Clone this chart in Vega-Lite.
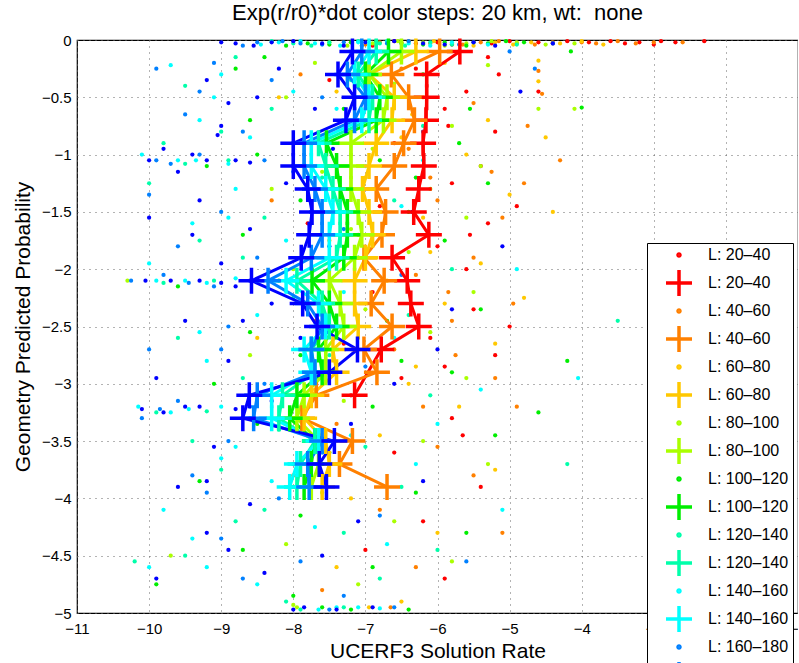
{
"$schema":"https://vega.github.io/schema/vega-lite/v6.json",
"width":721,"height":573,
"autosize":{"type":"none"},
"padding":{"left":77,"top":40,"right":0,"bottom":50},
"background":"white",
"title":{"text":"Exp(r/r0)*dot color steps: 20 km, wt:\u00a0 none","fontSize":22,"fontWeight":"normal","font":"Liberation Sans","color":"black","offset":6},
"datasets":{
"dots":[
{"x":-5.5,"y":-0.02,"k":"L: 20–40"},{"x":-5.0,"y":-0.01,"k":"L: 20–40"},{"x":-4.6,"y":-0.02,"k":"L: 20–40"},{"x":-4.2,"y":-0.01,"k":"L: 20–40"},{"x":-3.9,"y":-0.02,"k":"L: 20–40"},{"x":-3.6,"y":-0.01,"k":"L: 20–40"},{"x":-3.2,"y":-0.02,"k":"L: 20–40"},{"x":-2.9,"y":-0.01,"k":"L: 20–40"},{"x":-2.7,"y":-0.02,"k":"L: 20–40"},{"x":-2.3,"y":-0.01,"k":"L: 20–40"},{"x":-6.3,"y":-0.03,"k":"L: 20–40"},{"x":-6.0,"y":-0.02,"k":"L: 20–40"},{"x":-5.3,"y":-0.15,"k":"L: 20–40"},{"x":-5.15,"y":-0.3,"k":"L: 20–40"},{"x":-6.3,"y":-0.25,"k":"L: 20–40"},{"x":-5.6,"y":-0.45,"k":"L: 20–40"},{"x":-5.9,"y":-0.6,"k":"L: 20–40"},{"x":-5.2,"y":-0.8,"k":"L: 20–40"},{"x":-6.6,"y":-0.9,"k":"L: 20–40"},{"x":-5.4,"y":-1.1,"k":"L: 20–40"},{"x":-5.8,"y":-1.25,"k":"L: 20–40"},{"x":-6.8,"y":-1.45,"k":"L: 20–40"},{"x":-5.3,"y":-1.6,"k":"L: 20–40"},{"x":-6.0,"y":-1.8,"k":"L: 20–40"},{"x":-5.6,"y":-2.0,"k":"L: 20–40"},{"x":-6.9,"y":-2.2,"k":"L: 20–40"},{"x":-5.5,"y":-2.35,"k":"L: 20–40"},{"x":-6.1,"y":-2.6,"k":"L: 20–40"},{"x":-5.2,"y":-2.75,"k":"L: 20–40"},{"x":-6.5,"y":-2.95,"k":"L: 20–40"},{"x":-7.2,"y":-3.1,"k":"L: 20–40"},{"x":-5.8,"y":-3.3,"k":"L: 20–40"},{"x":-6.6,"y":-3.6,"k":"L: 20–40"},{"x":-5.4,"y":-3.9,"k":"L: 20–40"},{"x":-6.2,"y":-4.2,"k":"L: 20–40"},{"x":-7.0,"y":-4.45,"k":"L: 20–40"},{"x":-5.9,"y":-4.7,"k":"L: 20–40"},{"x":-7.5,"y":-0.35,"k":"L: 20–40"},{"x":-7.8,"y":-1.6,"k":"L: 20–40"},{"x":-6.9,"y":-0.05,"k":"L: 20–40"},{"x":-4.6,"y":-0.45,"k":"L: 20–40"},{"x":-4.9,"y":-1.45,"k":"L: 20–40"},{"x":-5.0,"y":-2.5,"k":"L: 20–40"},{"x":-7.3,"y":-2.65,"k":"L: 20–40"},{"x":-5.65,"y":-3.45,"k":"L: 20–40"},
{"x":-6.6,"y":-0.01,"k":"L: 20–40"},{"x":-5.8,"y":-0.04,"k":"L: 20–40"},{"x":-5.25,"y":-0.03,"k":"L: 20–40"},{"x":-4.4,"y":-0.03,"k":"L: 20–40"},{"x":-3.4,"y":-0.03,"k":"L: 20–40"},{"x":-3.0,"y":-0.04,"k":"L: 20–40"},{"x":-5.85,"y":-0.75,"k":"L: 20–40"},{"x":-5.55,"y":-1.7,"k":"L: 20–40"},{"x":-5.9,"y":-2.85,"k":"L: 20–40"},
{"x":-6.8,"y":-0.02,"k":"L: 40–60"},{"x":-6.1,"y":-0.03,"k":"L: 40–60"},{"x":-5.4,"y":-0.02,"k":"L: 40–60"},{"x":-4.9,"y":-0.03,"k":"L: 40–60"},{"x":-4.4,"y":-0.02,"k":"L: 40–60"},{"x":-4.0,"y":-0.02,"k":"L: 40–60"},{"x":-3.5,"y":-0.01,"k":"L: 40–60"},{"x":-3.0,"y":-0.02,"k":"L: 40–60"},{"x":-2.6,"y":-0.02,"k":"L: 40–60"},{"x":-4.6,"y":-0.27,"k":"L: 40–60"},{"x":-4.55,"y":-0.47,"k":"L: 40–60"},{"x":-5.7,"y":-0.1,"k":"L: 40–60"},{"x":-6.5,"y":-0.25,"k":"L: 40–60"},{"x":-5.5,"y":-0.55,"k":"L: 40–60"},{"x":-4.75,"y":-0.75,"k":"L: 40–60"},{"x":-6.4,"y":-0.95,"k":"L: 40–60"},{"x":-5.25,"y":-1.15,"k":"L: 40–60"},{"x":-4.8,"y":-1.25,"k":"L: 40–60"},{"x":-6.0,"y":-1.4,"k":"L: 40–60"},{"x":-5.1,"y":-1.55,"k":"L: 40–60"},{"x":-7.1,"y":-1.7,"k":"L: 40–60"},{"x":-5.5,"y":-1.9,"k":"L: 40–60"},{"x":-6.3,"y":-2.05,"k":"L: 40–60"},{"x":-4.95,"y":-2.3,"k":"L: 40–60"},{"x":-5.8,"y":-2.45,"k":"L: 40–60"},{"x":-6.6,"y":-2.7,"k":"L: 40–60"},{"x":-5.2,"y":-2.95,"k":"L: 40–60"},{"x":-4.9,"y":-3.2,"k":"L: 40–60"},{"x":-7.4,"y":-3.35,"k":"L: 40–60"},{"x":-6.0,"y":-3.55,"k":"L: 40–60"},{"x":-5.5,"y":-3.8,"k":"L: 40–60"},{"x":-6.8,"y":-4.1,"k":"L: 40–60"},{"x":-5.1,"y":-4.3,"k":"L: 40–60"},{"x":-6.3,"y":-4.6,"k":"L: 40–60"},{"x":-7.6,"y":-4.8,"k":"L: 40–60"},{"x":-7.9,"y":-0.3,"k":"L: 40–60"},{"x":-8.3,"y":-1.4,"k":"L: 40–60"},{"x":-7.7,"y":-2.45,"k":"L: 40–60"},{"x":-8.0,"y":-3.8,"k":"L: 40–60"},{"x":-4.3,"y":-1.05,"k":"L: 40–60"},{"x":-5.75,"y":-2.75,"k":"L: 40–60"},{"x":-6.65,"y":-4.95,"k":"L: 40–60"},
{"x":-7.0,"y":-0.04,"k":"L: 40–60"},{"x":-6.4,"y":-0.01,"k":"L: 40–60"},{"x":-5.65,"y":-0.04,"k":"L: 40–60"},{"x":-5.15,"y":-0.01,"k":"L: 40–60"},{"x":-4.65,"y":-0.04,"k":"L: 40–60"},{"x":-3.8,"y":-0.03,"k":"L: 40–60"},{"x":-3.25,"y":-0.03,"k":"L: 40–60"},{"x":-6.1,"y":-1.2,"k":"L: 40–60"},{"x":-5.85,"y":-2.2,"k":"L: 40–60"},{"x":-6.2,"y":-3.2,"k":"L: 40–60"},
{"x":-7.2,"y":-0.02,"k":"L: 60–80"},{"x":-6.5,"y":-0.02,"k":"L: 60–80"},{"x":-5.8,"y":-0.03,"k":"L: 60–80"},{"x":-5.2,"y":-0.02,"k":"L: 60–80"},{"x":-4.7,"y":-0.02,"k":"L: 60–80"},{"x":-4.3,"y":-0.03,"k":"L: 60–80"},{"x":-4.6,"y":-0.18,"k":"L: 60–80"},{"x":-4.6,"y":-0.36,"k":"L: 60–80"},{"x":-4.5,"y":-0.85,"k":"L: 60–80"},{"x":-5.9,"y":-0.2,"k":"L: 60–80"},{"x":-6.2,"y":-0.5,"k":"L: 60–80"},{"x":-7.4,"y":-0.45,"k":"L: 60–80"},{"x":-5.3,"y":-0.7,"k":"L: 60–80"},{"x":-6.5,"y":-0.85,"k":"L: 60–80"},{"x":-5.6,"y":-1.0,"k":"L: 60–80"},{"x":-7.0,"y":-1.2,"k":"L: 60–80"},{"x":-5.0,"y":-1.35,"k":"L: 60–80"},{"x":-6.2,"y":-1.55,"k":"L: 60–80"},{"x":-7.5,"y":-1.75,"k":"L: 60–80"},{"x":-5.4,"y":-1.95,"k":"L: 60–80"},{"x":-6.7,"y":-2.1,"k":"L: 60–80"},{"x":-5.9,"y":-2.3,"k":"L: 60–80"},{"x":-7.3,"y":-2.5,"k":"L: 60–80"},{"x":-5.2,"y":-2.65,"k":"L: 60–80"},{"x":-6.3,"y":-2.85,"k":"L: 60–80"},{"x":-7.7,"y":-3.05,"k":"L: 60–80"},{"x":-4.4,"y":-1.5,"k":"L: 60–80"},{"x":-5.7,"y":-3.2,"k":"L: 60–80"},{"x":-6.8,"y":-3.45,"k":"L: 60–80"},{"x":-5.2,"y":-3.75,"k":"L: 60–80"},{"x":-7.2,"y":-4.0,"k":"L: 60–80"},{"x":-6.0,"y":-4.3,"k":"L: 60–80"},{"x":-7.4,"y":-4.6,"k":"L: 60–80"},{"x":-6.5,"y":-4.9,"k":"L: 60–80"},{"x":-8.2,"y":-0.5,"k":"L: 60–80"},{"x":-8.5,"y":-2.6,"k":"L: 60–80"},{"x":-4.8,"y":-2.25,"k":"L: 60–80"},{"x":-6.95,"y":-4.95,"k":"L: 60–80"},
{"x":-6.85,"y":-0.04,"k":"L: 60–80"},{"x":-6.05,"y":-0.01,"k":"L: 60–80"},{"x":-5.5,"y":-0.05,"k":"L: 60–80"},{"x":-4.95,"y":-0.04,"k":"L: 60–80"},{"x":-4.0,"y":-0.01,"k":"L: 60–80"},{"x":-3.7,"y":-0.04,"k":"L: 60–80"},{"x":-6.35,"y":-0.65,"k":"L: 60–80"},{"x":-6.1,"y":-1.85,"k":"L: 60–80"},{"x":-6.4,"y":-3.0,"k":"L: 60–80"},
{"x":-7.5,"y":-0.02,"k":"L: 80–100"},{"x":-6.9,"y":-0.03,"k":"L: 80–100"},{"x":-6.2,"y":-0.02,"k":"L: 80–100"},{"x":-5.6,"y":-0.03,"k":"L: 80–100"},{"x":-4.9,"y":-0.02,"k":"L: 80–100"},{"x":-4.1,"y":-0.03,"k":"L: 80–100"},{"x":-4.1,"y":-0.6,"k":"L: 80–100"},{"x":-4.6,"y":-0.6,"k":"L: 80–100"},{"x":-5.3,"y":-0.22,"k":"L: 80–100"},{"x":-6.6,"y":-0.38,"k":"L: 80–100"},{"x":-7.7,"y":-0.2,"k":"L: 80–100"},{"x":-8.1,"y":-0.5,"k":"L: 80–100"},{"x":-5.8,"y":-0.75,"k":"L: 80–100"},{"x":-6.9,"y":-0.95,"k":"L: 80–100"},{"x":-5.4,"y":-1.1,"k":"L: 80–100"},{"x":-7.6,"y":-1.15,"k":"L: 80–100"},{"x":-6.1,"y":-1.3,"k":"L: 80–100"},{"x":-8.3,"y":-1.3,"k":"L: 80–100"},{"x":-5.6,"y":-1.55,"k":"L: 80–100"},{"x":-7.2,"y":-1.65,"k":"L: 80–100"},{"x":-6.4,"y":-1.85,"k":"L: 80–100"},{"x":-8.0,"y":-2.0,"k":"L: 80–100"},{"x":-5.5,"y":-2.2,"k":"L: 80–100"},{"x":-7.0,"y":-2.35,"k":"L: 80–100"},{"x":-6.1,"y":-2.55,"k":"L: 80–100"},{"x":-8.6,"y":-2.75,"k":"L: 80–100"},{"x":-5.6,"y":-2.95,"k":"L: 80–100"},{"x":-7.3,"y":-3.15,"k":"L: 80–100"},{"x":-8.0,"y":-3.3,"k":"L: 80–100"},{"x":-6.2,"y":-3.5,"k":"L: 80–100"},{"x":-5.3,"y":-3.7,"k":"L: 80–100"},{"x":-7.6,"y":-3.95,"k":"L: 80–100"},{"x":-6.6,"y":-4.2,"k":"L: 80–100"},{"x":-8.1,"y":-4.4,"k":"L: 80–100"},{"x":-5.8,"y":-4.55,"k":"L: 80–100"},{"x":-7.1,"y":-4.75,"k":"L: 80–100"},{"x":-7.95,"y":-4.95,"k":"L: 80–100"},{"x":-9.7,"y":-4.5,"k":"L: 80–100"},{"x":-10.3,"y":-2.1,"k":"L: 80–100"},
{"x":-7.25,"y":-0.05,"k":"L: 80–100"},{"x":-6.55,"y":-0.01,"k":"L: 80–100"},{"x":-5.9,"y":-0.05,"k":"L: 80–100"},{"x":-5.25,"y":-0.01,"k":"L: 80–100"},{"x":-4.5,"y":-0.04,"k":"L: 80–100"},{"x":-8.0,"y":-4.93,"k":"L: 80–100"},
{"x":-7.8,"y":-0.03,"k":"L: 100–120"},{"x":-7.2,"y":-0.02,"k":"L: 100–120"},{"x":-6.5,"y":-0.03,"k":"L: 100–120"},{"x":-5.9,"y":-0.02,"k":"L: 100–120"},{"x":-5.3,"y":-0.03,"k":"L: 100–120"},{"x":-4.8,"y":-0.02,"k":"L: 100–120"},{"x":-4.15,"y":-0.1,"k":"L: 100–120"},{"x":-4.0,"y":-0.59,"k":"L: 100–120"},{"x":-5.55,"y":-0.6,"k":"L: 100–120"},{"x":-8.4,"y":-0.15,"k":"L: 100–120"},{"x":-8.8,"y":-0.25,"k":"L: 100–120"},{"x":-6.2,"y":-0.3,"k":"L: 100–120"},{"x":-7.3,"y":-0.6,"k":"L: 100–120"},{"x":-8.6,"y":-0.7,"k":"L: 100–120"},{"x":-5.7,"y":-0.9,"k":"L: 100–120"},{"x":-6.8,"y":-1.05,"k":"L: 100–120"},{"x":-8.5,"y":-1.0,"k":"L: 100–120"},{"x":-9.2,"y":-1.1,"k":"L: 100–120"},{"x":-5.3,"y":-1.25,"k":"L: 100–120"},{"x":-7.9,"y":-1.4,"k":"L: 100–120"},{"x":-6.4,"y":-1.5,"k":"L: 100–120"},{"x":-8.7,"y":-1.7,"k":"L: 100–120"},{"x":-5.9,"y":-1.75,"k":"L: 100–120"},{"x":-7.1,"y":-1.9,"k":"L: 100–120"},{"x":-8.2,"y":-2.1,"k":"L: 100–120"},{"x":-9.6,"y":-2.15,"k":"L: 100–120"},{"x":-5.4,"y":-2.35,"k":"L: 100–120"},{"x":-6.7,"y":-2.45,"k":"L: 100–120"},{"x":-8.6,"y":-2.55,"k":"L: 100–120"},{"x":-7.9,"y":-2.75,"k":"L: 100–120"},{"x":-5.8,"y":-2.9,"k":"L: 100–120"},{"x":-9.1,"y":-3.0,"k":"L: 100–120"},{"x":-6.9,"y":-3.2,"k":"L: 100–120"},{"x":-8.5,"y":-3.35,"k":"L: 100–120"},{"x":-5.2,"y":-3.45,"k":"L: 100–120"},{"x":-7.5,"y":-3.6,"k":"L: 100–120"},{"x":-9.3,"y":-3.85,"k":"L: 100–120"},{"x":-6.3,"y":-3.95,"k":"L: 100–120"},{"x":-7.9,"y":-4.15,"k":"L: 100–120"},{"x":-5.6,"y":-4.3,"k":"L: 100–120"},{"x":-8.7,"y":-4.45,"k":"L: 100–120"},{"x":-6.9,"y":-4.6,"k":"L: 100–120"},{"x":-9.9,"y":-4.75,"k":"L: 100–120"},{"x":-7.6,"y":-4.95,"k":"L: 100–120"},{"x":-7.2,"y":-4.97,"k":"L: 100–120"},{"x":-8.0,"y":-4.85,"k":"L: 100–120"},{"x":-4.2,"y":-2.8,"k":"L: 100–120"},{"x":-4.6,"y":-3.25,"k":"L: 100–120"},
{"x":-8.1,"y":-0.05,"k":"L: 100–120"},{"x":-7.5,"y":-0.04,"k":"L: 100–120"},{"x":-6.85,"y":-0.01,"k":"L: 100–120"},{"x":-6.2,"y":-0.04,"k":"L: 100–120"},{"x":-5.6,"y":-0.05,"k":"L: 100–120"},{"x":-5.05,"y":-0.01,"k":"L: 100–120"},{"x":-6.3,"y":-1.2,"k":"L: 100–120"},{"x":-6.5,"y":-2.8,"k":"L: 100–120"},{"x":-6.4,"y":-4.97,"k":"L: 100–120"},
{"x":-8.0,"y":-0.03,"k":"L: 120–140"},{"x":-7.5,"y":-0.02,"k":"L: 120–140"},{"x":-6.8,"y":-0.03,"k":"L: 120–140"},{"x":-6.1,"y":-0.02,"k":"L: 120–140"},{"x":-5.5,"y":-0.02,"k":"L: 120–140"},{"x":-8.8,"y":-0.15,"k":"L: 120–140"},{"x":-9.5,"y":-0.4,"k":"L: 120–140"},{"x":-7.2,"y":-0.35,"k":"L: 120–140"},{"x":-8.3,"y":-0.6,"k":"L: 120–140"},{"x":-6.2,"y":-0.75,"k":"L: 120–140"},{"x":-9.8,"y":-0.9,"k":"L: 120–140"},{"x":-8.9,"y":-1.05,"k":"L: 120–140"},{"x":-7.6,"y":-1.2,"k":"L: 120–140"},{"x":-10.0,"y":-1.25,"k":"L: 120–140"},{"x":-6.6,"y":-1.4,"k":"L: 120–140"},{"x":-8.4,"y":-1.55,"k":"L: 120–140"},{"x":-9.3,"y":-1.75,"k":"L: 120–140"},{"x":-7.0,"y":-1.85,"k":"L: 120–140"},{"x":-5.8,"y":-2.0,"k":"L: 120–140"},{"x":-9.1,"y":-2.1,"k":"L: 120–140"},{"x":-8.0,"y":-2.25,"k":"L: 120–140"},{"x":-6.4,"y":-2.4,"k":"L: 120–140"},{"x":-9.6,"y":-2.6,"k":"L: 120–140"},{"x":-7.5,"y":-2.75,"k":"L: 120–140"},{"x":-8.7,"y":-2.95,"k":"L: 120–140"},{"x":-6.1,"y":-3.1,"k":"L: 120–140"},{"x":-9.9,"y":-3.25,"k":"L: 120–140"},{"x":-8.2,"y":-3.4,"k":"L: 120–140"},{"x":-7.0,"y":-3.55,"k":"L: 120–140"},{"x":-9.0,"y":-3.75,"k":"L: 120–140"},{"x":-6.5,"y":-3.9,"k":"L: 120–140"},{"x":-8.4,"y":-4.1,"k":"L: 120–140"},{"x":-7.3,"y":-4.3,"k":"L: 120–140"},{"x":-9.5,"y":-4.5,"k":"L: 120–140"},{"x":-6.8,"y":-4.7,"k":"L: 120–140"},{"x":-8.1,"y":-4.9,"k":"L: 120–140"},{"x":-10.2,"y":-4.55,"k":"L: 120–140"},{"x":-6.0,"y":-4.45,"k":"L: 120–140"},{"x":-4.2,"y":-3.7,"k":"L: 120–140"},{"x":-3.5,"y":-2.45,"k":"L: 120–140"},
{"x":-8.3,"y":-0.01,"k":"L: 120–140"},{"x":-7.75,"y":-0.05,"k":"L: 120–140"},{"x":-7.1,"y":-0.01,"k":"L: 120–140"},{"x":-6.45,"y":-0.05,"k":"L: 120–140"},{"x":-5.8,"y":-0.04,"k":"L: 120–140"},{"x":-4.9,"y":-0.04,"k":"L: 120–140"},{"x":-9.5,"y":-1.08,"k":"L: 120–140"},{"x":-9.8,"y":-2.12,"k":"L: 120–140"},{"x":-9.2,"y":-3.24,"k":"L: 120–140"},{"x":-7.9,"y":-4.97,"k":"L: 120–140"},{"x":-7.3,"y":-4.95,"k":"L: 120–140"},{"x":-9.0,"y":-0.8,"k":"L: 120–140"},{"x":-8.7,"y":-1.9,"k":"L: 120–140"},{"x":-9.4,"y":-3.5,"k":"L: 120–140"},{"x":-8.8,"y":-4.2,"k":"L: 120–140"},
{"x":-8.2,"y":-0.02,"k":"L: 140–160"},{"x":-7.7,"y":-0.03,"k":"L: 140–160"},{"x":-7.1,"y":-0.02,"k":"L: 140–160"},{"x":-6.4,"y":-0.03,"k":"L: 140–160"},{"x":-5.8,"y":-0.02,"k":"L: 140–160"},{"x":-4.4,"y":-0.03,"k":"L: 140–160"},{"x":-9.7,"y":-0.22,"k":"L: 140–160"},{"x":-9.0,"y":-0.3,"k":"L: 140–160"},{"x":-8.0,"y":-0.45,"k":"L: 140–160"},{"x":-7.4,"y":-0.6,"k":"L: 140–160"},{"x":-9.3,"y":-0.7,"k":"L: 140–160"},{"x":-8.6,"y":-0.85,"k":"L: 140–160"},{"x":-10.1,"y":-1.0,"k":"L: 140–160"},{"x":-9.6,"y":-1.05,"k":"L: 140–160"},{"x":-7.0,"y":-1.1,"k":"L: 140–160"},{"x":-8.8,"y":-1.3,"k":"L: 140–160"},{"x":-6.5,"y":-1.45,"k":"L: 140–160"},{"x":-9.4,"y":-1.6,"k":"L: 140–160"},{"x":-8.1,"y":-1.75,"k":"L: 140–160"},{"x":-10.0,"y":-1.95,"k":"L: 140–160"},{"x":-9.5,"y":-2.1,"k":"L: 140–160"},{"x":-9.9,"y":-2.1,"k":"L: 140–160"},{"x":-7.3,"y":-2.2,"k":"L: 140–160"},{"x":-8.5,"y":-2.4,"k":"L: 140–160"},{"x":-6.6,"y":-2.6,"k":"L: 140–160"},{"x":-9.2,"y":-2.8,"k":"L: 140–160"},{"x":-7.8,"y":-2.95,"k":"L: 140–160"},{"x":-10.15,"y":-3.2,"k":"L: 140–160"},{"x":-9.7,"y":-3.25,"k":"L: 140–160"},{"x":-8.6,"y":-3.3,"k":"L: 140–160"},{"x":-7.2,"y":-3.45,"k":"L: 140–160"},{"x":-9.0,"y":-3.65,"k":"L: 140–160"},{"x":-6.3,"y":-3.7,"k":"L: 140–160"},{"x":-8.3,"y":-3.85,"k":"L: 140–160"},{"x":-9.8,"y":-4.1,"k":"L: 140–160"},{"x":-7.7,"y":-4.25,"k":"L: 140–160"},{"x":-6.7,"y":-4.4,"k":"L: 140–160"},{"x":-9.2,"y":-4.6,"k":"L: 140–160"},{"x":-8.5,"y":-4.75,"k":"L: 140–160"},{"x":-7.4,"y":-4.95,"k":"L: 140–160"},{"x":-10.0,"y":-4.6,"k":"L: 140–160"},{"x":-4.9,"y":-2.0,"k":"L: 140–160"},{"x":-5.4,"y":-3.05,"k":"L: 140–160"},{"x":-5.1,"y":-4.1,"k":"L: 140–160"},{"x":-4.05,"y":-2.95,"k":"L: 140–160"},{"x":-7.1,"y":-4.95,"k":"L: 140–160"},
{"x":-8.45,"y":-0.04,"k":"L: 140–160"},{"x":-7.9,"y":-0.01,"k":"L: 140–160"},{"x":-7.35,"y":-0.05,"k":"L: 140–160"},{"x":-6.7,"y":-0.01,"k":"L: 140–160"},{"x":-6.1,"y":-0.05,"k":"L: 140–160"},{"x":-5.3,"y":-0.04,"k":"L: 140–160"},{"x":-9.35,"y":-1.05,"k":"L: 140–160"},{"x":-8.9,"y":-1.08,"k":"L: 140–160"},{"x":-9.2,"y":-2.12,"k":"L: 140–160"},{"x":-8.8,"y":-2.08,"k":"L: 140–160"},{"x":-9.45,"y":-3.22,"k":"L: 140–160"},{"x":-9.0,"y":-3.2,"k":"L: 140–160"},{"x":-7.65,"y":-4.97,"k":"L: 140–160"},{"x":-6.8,"y":-4.96,"k":"L: 140–160"},{"x":-6.2,"y":-1.05,"k":"L: 140–160"},{"x":-6.0,"y":-3.35,"k":"L: 140–160"},{"x":-9.1,"y":-0.5,"k":"L: 140–160"},{"x":-8.9,"y":-1.55,"k":"L: 140–160"},{"x":-9.3,"y":-2.55,"k":"L: 140–160"},{"x":-8.8,"y":-3.55,"k":"L: 140–160"},{"x":-9.4,"y":-4.35,"k":"L: 140–160"},
{"x":-8.5,"y":-0.02,"k":"L: 160–180"},{"x":-7.9,"y":-0.03,"k":"L: 160–180"},{"x":-7.3,"y":-0.02,"k":"L: 160–180"},{"x":-6.7,"y":-0.03,"k":"L: 160–180"},{"x":-5.0,"y":-0.1,"k":"L: 160–180"},{"x":-9.9,"y":-0.25,"k":"L: 160–180"},{"x":-9.1,"y":-0.2,"k":"L: 160–180"},{"x":-8.3,"y":-0.35,"k":"L: 160–180"},{"x":-7.6,"y":-0.5,"k":"L: 160–180"},{"x":-9.5,"y":-0.65,"k":"L: 160–180"},{"x":-8.7,"y":-0.8,"k":"L: 160–180"},{"x":-9.9,"y":-1.05,"k":"L: 160–180"},{"x":-9.3,"y":-1.0,"k":"L: 160–180"},{"x":-8.0,"y":-1.15,"k":"L: 160–180"},{"x":-10.0,"y":-1.35,"k":"L: 160–180"},{"x":-9.0,"y":-1.5,"k":"L: 160–180"},{"x":-7.3,"y":-1.65,"k":"L: 160–180"},{"x":-8.5,"y":-1.9,"k":"L: 160–180"},{"x":-9.8,"y":-2.05,"k":"L: 160–180"},{"x":-9.1,"y":-2.15,"k":"L: 160–180"},{"x":-7.8,"y":-2.3,"k":"L: 160–180"},{"x":-8.9,"y":-2.5,"k":"L: 160–180"},{"x":-10.0,"y":-2.7,"k":"L: 160–180"},{"x":-7.0,"y":-2.85,"k":"L: 160–180"},{"x":-8.4,"y":-3.0,"k":"L: 160–180"},{"x":-9.6,"y":-3.15,"k":"L: 160–180"},{"x":-10.1,"y":-3.3,"k":"L: 160–180"},{"x":-8.9,"y":-3.5,"k":"L: 160–180"},{"x":-7.6,"y":-3.6,"k":"L: 160–180"},{"x":-9.4,"y":-3.8,"k":"L: 160–180"},{"x":-8.2,"y":-4.0,"k":"L: 160–180"},{"x":-6.8,"y":-4.15,"k":"L: 160–180"},{"x":-9.0,"y":-4.35,"k":"L: 160–180"},{"x":-7.9,"y":-4.55,"k":"L: 160–180"},{"x":-8.7,"y":-4.7,"k":"L: 160–180"},{"x":-7.3,"y":-4.85,"k":"L: 160–180"},{"x":-10.25,"y":-2.1,"k":"L: 160–180"},{"x":-6.2,"y":-0.8,"k":"L: 160–180"},{"x":-6.5,"y":-2.05,"k":"L: 160–180"},{"x":-5.6,"y":-4.55,"k":"L: 160–180"},{"x":-4.65,"y":-0.25,"k":"L: 160–180"},
{"x":-8.7,"y":-0.05,"k":"L: 160–180"},{"x":-8.15,"y":-0.01,"k":"L: 160–180"},{"x":-7.6,"y":-0.04,"k":"L: 160–180"},{"x":-7.05,"y":-0.05,"k":"L: 160–180"},{"x":-6.4,"y":-0.01,"k":"L: 160–180"},{"x":-5.7,"y":-0.04,"k":"L: 160–180"},{"x":-9.7,"y":-1.08,"k":"L: 160–180"},{"x":-8.4,"y":-1.05,"k":"L: 160–180"},{"x":-9.45,"y":-2.12,"k":"L: 160–180"},{"x":-8.5,"y":-2.1,"k":"L: 160–180"},{"x":-9.85,"y":-3.22,"k":"L: 160–180"},{"x":-8.6,"y":-3.2,"k":"L: 160–180"},{"x":-7.5,"y":-4.97,"k":"L: 160–180"},{"x":-6.6,"y":-4.95,"k":"L: 160–180"},{"x":-9.3,"y":-0.45,"k":"L: 160–180"},{"x":-9.6,"y":-1.8,"k":"L: 160–180"},{"x":-9.0,"y":-2.7,"k":"L: 160–180"},{"x":-9.2,"y":-3.95,"k":"L: 160–180"},
{"x":-8.8,"y":-0.03,"k":"L: 180–200"},{"x":-8.3,"y":-0.02,"k":"L: 180–200"},{"x":-7.6,"y":-0.03,"k":"L: 180–200"},{"x":-7.0,"y":-0.02,"k":"L: 180–200"},{"x":-6.2,"y":-0.03,"k":"L: 180–200"},{"x":-5.5,"y":-0.02,"k":"L: 180–200"},{"x":-4.4,"y":-0.03,"k":"L: 180–200"},{"x":-8.2,"y":-0.25,"k":"L: 180–200"},{"x":-9.2,"y":-0.35,"k":"L: 180–200"},{"x":-8.5,"y":-0.5,"k":"L: 180–200"},{"x":-7.7,"y":-0.6,"k":"L: 180–200"},{"x":-9.0,"y":-0.75,"k":"L: 180–200"},{"x":-9.8,"y":-0.95,"k":"L: 180–200"},{"x":-9.4,"y":-1.0,"k":"L: 180–200"},{"x":-8.8,"y":-1.05,"k":"L: 180–200"},{"x":-9.6,"y":-1.15,"k":"L: 180–200"},{"x":-8.1,"y":-1.25,"k":"L: 180–200"},{"x":-9.3,"y":-1.4,"k":"L: 180–200"},{"x":-10.0,"y":-1.55,"k":"L: 180–200"},{"x":-8.6,"y":-1.65,"k":"L: 180–200"},{"x":-7.5,"y":-1.8,"k":"L: 180–200"},{"x":-9.0,"y":-1.95,"k":"L: 180–200"},{"x":-9.7,"y":-2.1,"k":"L: 180–200"},{"x":-9.3,"y":-2.1,"k":"L: 180–200"},{"x":-8.8,"y":-2.15,"k":"L: 180–200"},{"x":-8.3,"y":-2.3,"k":"L: 180–200"},{"x":-9.5,"y":-2.45,"k":"L: 180–200"},{"x":-7.9,"y":-2.6,"k":"L: 180–200"},{"x":-8.9,"y":-2.8,"k":"L: 180–200"},{"x":-9.9,"y":-2.95,"k":"L: 180–200"},{"x":-9.5,"y":-3.2,"k":"L: 180–200"},{"x":-9.8,"y":-3.25,"k":"L: 180–200"},{"x":-8.3,"y":-3.15,"k":"L: 180–200"},{"x":-7.2,"y":-3.35,"k":"L: 180–200"},{"x":-9.1,"y":-3.55,"k":"L: 180–200"},{"x":-8.0,"y":-3.7,"k":"L: 180–200"},{"x":-9.6,"y":-3.9,"k":"L: 180–200"},{"x":-8.6,"y":-4.05,"k":"L: 180–200"},{"x":-7.1,"y":-4.2,"k":"L: 180–200"},{"x":-9.2,"y":-4.3,"k":"L: 180–200"},{"x":-7.6,"y":-4.5,"k":"L: 180–200"},{"x":-8.4,"y":-4.65,"k":"L: 180–200"},{"x":-9.9,"y":-4.7,"k":"L: 180–200"},{"x":-7.85,"y":-4.95,"k":"L: 180–200"},{"x":-7.4,"y":-4.97,"k":"L: 180–200"},{"x":-6.9,"y":-4.95,"k":"L: 180–200"},{"x":-6.0,"y":-2.7,"k":"L: 180–200"},{"x":-5.1,"y":-1.8,"k":"L: 180–200"},{"x":-6.2,"y":-3.85,"k":"L: 180–200"},{"x":-4.85,"y":-0.45,"k":"L: 180–200"},{"x":-7.45,"y":-0.95,"k":"L: 180–200"},{"x":-9.05,"y":-0.83,"k":"L: 180–200"},
{"x":-9.0,"y":-0.02,"k":"L: 180–200"},{"x":-8.55,"y":-0.05,"k":"L: 180–200"},{"x":-8.0,"y":-0.01,"k":"L: 180–200"},{"x":-7.3,"y":-0.05,"k":"L: 180–200"},{"x":-6.6,"y":-0.01,"k":"L: 180–200"},{"x":-5.9,"y":-0.04,"k":"L: 180–200"},{"x":-5.2,"y":-0.05,"k":"L: 180–200"},{"x":-10.0,"y":-1.05,"k":"L: 180–200"},{"x":-9.2,"y":-1.05,"k":"L: 180–200"},{"x":-8.6,"y":-1.07,"k":"L: 180–200"},{"x":-10.05,"y":-2.1,"k":"L: 180–200"},{"x":-9.0,"y":-2.12,"k":"L: 180–200"},{"x":-8.6,"y":-2.1,"k":"L: 180–200"},{"x":-10.1,"y":-3.22,"k":"L: 180–200"},{"x":-9.3,"y":-3.2,"k":"L: 180–200"},{"x":-8.8,"y":-3.22,"k":"L: 180–200"},{"x":-8.0,"y":-4.97,"k":"L: 180–200"},{"x":-6.35,"y":-1.5,"k":"L: 180–200"},{"x":-5.8,"y":-2.35,"k":"L: 180–200"},{"x":-6.6,"y":-3.0,"k":"L: 180–200"},{"x":-8.9,"y":-0.55,"k":"L: 180–200"},{"x":-9.4,"y":-1.7,"k":"L: 180–200"},{"x":-8.7,"y":-2.45,"k":"L: 180–200"},{"x":-9.2,"y":-3.85,"k":"L: 180–200"},{"x":-8.9,"y":-4.45,"k":"L: 180–200"}
],
"lines":[
{"y":-0.1,"x":-5.69,"k":"L: 20–40\u00a0"},{"y":-0.3,"x":-6.15,"k":"L: 20–40\u00a0"},{"y":-0.5,"x":-6.15,"k":"L: 20–40\u00a0"},{"y":-0.7,"x":-6.16,"k":"L: 20–40\u00a0"},{"y":-0.9,"x":-6.2,"k":"L: 20–40\u00a0"},{"y":-1.1,"x":-6.19,"k":"L: 20–40\u00a0"},{"y":-1.3,"x":-6.26,"k":"L: 20–40\u00a0"},{"y":-1.5,"x":-6.33,"k":"L: 20–40\u00a0"},{"y":-1.7,"x":-6.12,"k":"L: 20–40\u00a0"},{"y":-1.9,"x":-6.63,"k":"L: 20–40\u00a0"},{"y":-2.1,"x":-6.42,"k":"L: 20–40\u00a0"},{"y":-2.3,"x":-6.37,"k":"L: 20–40\u00a0"},{"y":-2.5,"x":-6.26,"k":"L: 20–40\u00a0"},{"y":-2.7,"x":-6.78,"k":"L: 20–40\u00a0"},{"y":-3.1,"x":-7.15,"k":"L: 20–40\u00a0"},
{"y":-0.1,"x":-5.97,"k":"L: 40–60\u00a0"},{"y":-0.3,"x":-6.64,"k":"L: 40–60\u00a0"},{"y":-0.5,"x":-6.4,"k":"L: 40–60\u00a0"},{"y":-0.7,"x":-6.32,"k":"L: 40–60\u00a0"},{"y":-0.9,"x":-6.47,"k":"L: 40–60\u00a0"},{"y":-1.1,"x":-6.6,"k":"L: 40–60\u00a0"},{"y":-1.3,"x":-6.85,"k":"L: 40–60\u00a0"},{"y":-1.5,"x":-6.72,"k":"L: 40–60\u00a0"},{"y":-1.7,"x":-6.77,"k":"L: 40–60\u00a0"},{"y":-1.9,"x":-7.02,"k":"L: 40–60\u00a0"},{"y":-2.1,"x":-6.74,"k":"L: 40–60\u00a0"},{"y":-2.3,"x":-6.92,"k":"L: 40–60\u00a0"},{"y":-2.5,"x":-6.63,"k":"L: 40–60\u00a0"},{"y":-2.7,"x":-7.02,"k":"L: 40–60\u00a0"},{"y":-2.9,"x":-6.84,"k":"L: 40–60\u00a0"},{"y":-3.1,"x":-7.68,"k":"L: 40–60\u00a0"},{"y":-3.3,"x":-7.88,"k":"L: 40–60\u00a0"},{"y":-3.5,"x":-7.18,"k":"L: 40–60\u00a0"},{"y":-3.7,"x":-7.36,"k":"L: 40–60\u00a0"},{"y":-3.9,"x":-6.7,"k":"L: 40–60\u00a0"},
{"y":-0.1,"x":-6.3,"k":"L: 60–80\u00a0"},{"y":-0.3,"x":-6.95,"k":"L: 60–80\u00a0"},{"y":-0.5,"x":-6.6,"k":"L: 60–80\u00a0"},{"y":-0.7,"x":-6.63,"k":"L: 60–80\u00a0"},{"y":-0.9,"x":-6.85,"k":"L: 60–80\u00a0"},{"y":-1.1,"x":-6.95,"k":"L: 60–80\u00a0"},{"y":-1.3,"x":-7.04,"k":"L: 60–80\u00a0"},{"y":-1.5,"x":-6.95,"k":"L: 60–80\u00a0"},{"y":-1.7,"x":-6.9,"k":"L: 60–80\u00a0"},{"y":-1.9,"x":-7.0,"k":"L: 60–80\u00a0"},{"y":-2.1,"x":-7.15,"k":"L: 60–80\u00a0"},{"y":-2.3,"x":-7.15,"k":"L: 60–80\u00a0"},{"y":-2.5,"x":-7.1,"k":"L: 60–80\u00a0"},{"y":-2.7,"x":-7.45,"k":"L: 60–80\u00a0"},{"y":-2.9,"x":-7.4,"k":"L: 60–80\u00a0"},{"y":-3.1,"x":-7.75,"k":"L: 60–80\u00a0"},{"y":-3.3,"x":-7.85,"k":"L: 60–80\u00a0"},{"y":-3.5,"x":-7.55,"k":"L: 60–80\u00a0"},{"y":-3.7,"x":-7.5,"k":"L: 60–80\u00a0"},{"y":-3.9,"x":-7.6,"k":"L: 60–80\u00a0"},
{"y":-0.1,"x":-6.5,"k":"L: 80–100\u00a0"},{"y":-0.3,"x":-6.95,"k":"L: 80–100\u00a0"},{"y":-0.5,"x":-6.7,"k":"L: 80–100\u00a0"},{"y":-0.7,"x":-6.75,"k":"L: 80–100\u00a0"},{"y":-0.9,"x":-7.2,"k":"L: 80–100\u00a0"},{"y":-1.1,"x":-7.2,"k":"L: 80–100\u00a0"},{"y":-1.3,"x":-7.2,"k":"L: 80–100\u00a0"},{"y":-1.5,"x":-7.1,"k":"L: 80–100\u00a0"},{"y":-1.7,"x":-7.05,"k":"L: 80–100\u00a0"},{"y":-1.9,"x":-7.15,"k":"L: 80–100\u00a0"},{"y":-2.1,"x":-7.5,"k":"L: 80–100\u00a0"},{"y":-2.3,"x":-7.35,"k":"L: 80–100\u00a0"},{"y":-2.5,"x":-7.3,"k":"L: 80–100\u00a0"},{"y":-2.7,"x":-7.55,"k":"L: 80–100\u00a0"},{"y":-2.9,"x":-7.55,"k":"L: 80–100\u00a0"},{"y":-3.1,"x":-7.85,"k":"L: 80–100\u00a0"},{"y":-3.3,"x":-7.95,"k":"L: 80–100\u00a0"},{"y":-3.5,"x":-7.65,"k":"L: 80–100\u00a0"},{"y":-3.7,"x":-7.65,"k":"L: 80–100\u00a0"},{"y":-3.9,"x":-7.75,"k":"L: 80–100\u00a0"},
{"y":-0.1,"x":-6.68,"k":"L: 100–120\u00a0"},{"y":-0.3,"x":-7.0,"k":"L: 100–120\u00a0"},{"y":-0.5,"x":-6.8,"k":"L: 100–120\u00a0"},{"y":-0.7,"x":-6.85,"k":"L: 100–120\u00a0"},{"y":-0.9,"x":-7.54,"k":"L: 100–120\u00a0"},{"y":-1.1,"x":-7.4,"k":"L: 100–120\u00a0"},{"y":-1.3,"x":-7.35,"k":"L: 100–120\u00a0"},{"y":-1.5,"x":-7.25,"k":"L: 100–120\u00a0"},{"y":-1.7,"x":-7.25,"k":"L: 100–120\u00a0"},{"y":-1.9,"x":-7.3,"k":"L: 100–120\u00a0"},{"y":-2.1,"x":-7.74,"k":"L: 100–120\u00a0"},{"y":-2.3,"x":-7.5,"k":"L: 100–120\u00a0"},{"y":-2.5,"x":-7.4,"k":"L: 100–120\u00a0"},{"y":-2.7,"x":-7.65,"k":"L: 100–120\u00a0"},{"y":-2.9,"x":-7.6,"k":"L: 100–120\u00a0"},{"y":-3.1,"x":-7.95,"k":"L: 100–120\u00a0"},{"y":-3.3,"x":-8.05,"k":"L: 100–120\u00a0"},{"y":-3.5,"x":-7.7,"k":"L: 100–120\u00a0"},{"y":-3.7,"x":-7.75,"k":"L: 100–120\u00a0"},{"y":-3.9,"x":-7.85,"k":"L: 100–120\u00a0"},
{"y":-0.1,"x":-6.85,"k":"L: 120–140\u00a0"},{"y":-0.3,"x":-7.1,"k":"L: 120–140\u00a0"},{"y":-0.5,"x":-6.9,"k":"L: 120–140\u00a0"},{"y":-0.7,"x":-6.95,"k":"L: 120–140\u00a0"},{"y":-0.9,"x":-7.65,"k":"L: 120–140\u00a0"},{"y":-1.1,"x":-7.55,"k":"L: 120–140\u00a0"},{"y":-1.3,"x":-7.45,"k":"L: 120–140\u00a0"},{"y":-1.5,"x":-7.35,"k":"L: 120–140\u00a0"},{"y":-1.7,"x":-7.35,"k":"L: 120–140\u00a0"},{"y":-1.9,"x":-7.4,"k":"L: 120–140\u00a0"},{"y":-2.1,"x":-7.95,"k":"L: 120–140\u00a0"},{"y":-2.3,"x":-7.6,"k":"L: 120–140\u00a0"},{"y":-2.5,"x":-7.5,"k":"L: 120–140\u00a0"},{"y":-2.7,"x":-7.75,"k":"L: 120–140\u00a0"},{"y":-2.9,"x":-7.7,"k":"L: 120–140\u00a0"},{"y":-3.1,"x":-8.15,"k":"L: 120–140\u00a0"},{"y":-3.3,"x":-8.2,"k":"L: 120–140\u00a0"},{"y":-3.5,"x":-7.7,"k":"L: 120–140\u00a0"},{"y":-3.7,"x":-7.9,"k":"L: 120–140\u00a0"},{"y":-3.9,"x":-7.95,"k":"L: 120–140\u00a0"},
{"y":-0.1,"x":-6.95,"k":"L: 140–160\u00a0"},{"y":-0.3,"x":-7.15,"k":"L: 140–160\u00a0"},{"y":-0.5,"x":-6.95,"k":"L: 140–160\u00a0"},{"y":-0.7,"x":-7.05,"k":"L: 140–160\u00a0"},{"y":-0.9,"x":-7.75,"k":"L: 140–160\u00a0"},{"y":-1.1,"x":-7.75,"k":"L: 140–160\u00a0"},{"y":-1.3,"x":-7.55,"k":"L: 140–160\u00a0"},{"y":-1.5,"x":-7.45,"k":"L: 140–160\u00a0"},{"y":-1.7,"x":-7.5,"k":"L: 140–160\u00a0"},{"y":-1.9,"x":-7.5,"k":"L: 140–160\u00a0"},{"y":-2.1,"x":-8.1,"k":"L: 140–160\u00a0"},{"y":-2.3,"x":-7.65,"k":"L: 140–160\u00a0"},{"y":-2.5,"x":-7.55,"k":"L: 140–160\u00a0"},{"y":-2.7,"x":-7.85,"k":"L: 140–160\u00a0"},{"y":-2.9,"x":-7.75,"k":"L: 140–160\u00a0"},{"y":-3.1,"x":-8.3,"k":"L: 140–160\u00a0"},{"y":-3.3,"x":-8.3,"k":"L: 140–160\u00a0"},{"y":-3.5,"x":-7.65,"k":"L: 140–160\u00a0"},{"y":-3.7,"x":-7.95,"k":"L: 140–160\u00a0"},{"y":-3.9,"x":-8.05,"k":"L: 140–160\u00a0"},
{"y":-0.1,"x":-7.05,"k":"L: 160–180\u00a0"},{"y":-0.3,"x":-7.25,"k":"L: 160–180\u00a0"},{"y":-0.5,"x":-7.0,"k":"L: 160–180\u00a0"},{"y":-0.7,"x":-7.15,"k":"L: 160–180\u00a0"},{"y":-0.9,"x":-7.85,"k":"L: 160–180\u00a0"},{"y":-1.1,"x":-7.85,"k":"L: 160–180\u00a0"},{"y":-1.3,"x":-7.7,"k":"L: 160–180\u00a0"},{"y":-1.5,"x":-7.6,"k":"L: 160–180\u00a0"},{"y":-1.7,"x":-7.6,"k":"L: 160–180\u00a0"},{"y":-1.9,"x":-7.75,"k":"L: 160–180\u00a0"},{"y":-2.1,"x":-8.35,"k":"L: 160–180\u00a0"},{"y":-2.3,"x":-7.8,"k":"L: 160–180\u00a0"},{"y":-2.5,"x":-7.6,"k":"L: 160–180\u00a0"},{"y":-2.7,"x":-7.75,"k":"L: 160–180\u00a0"},{"y":-2.9,"x":-7.7,"k":"L: 160–180\u00a0"},{"y":-3.1,"x":-8.5,"k":"L: 160–180\u00a0"},{"y":-3.3,"x":-8.55,"k":"L: 160–180\u00a0"},{"y":-3.5,"x":-7.6,"k":"L: 160–180\u00a0"},{"y":-3.7,"x":-7.8,"k":"L: 160–180\u00a0"},{"y":-3.9,"x":-7.78,"k":"L: 160–180\u00a0"},
{"y":-0.1,"x":-7.18,"k":"L: 180–200\u00a0"},{"y":-0.3,"x":-7.38,"k":"L: 180–200\u00a0"},{"y":-0.5,"x":-7.15,"k":"L: 180–200\u00a0"},{"y":-0.7,"x":-7.27,"k":"L: 180–200\u00a0"},{"y":-0.9,"x":-8.0,"k":"L: 180–200\u00a0"},{"y":-1.1,"x":-8.0,"k":"L: 180–200\u00a0"},{"y":-1.3,"x":-7.8,"k":"L: 180–200\u00a0"},{"y":-1.5,"x":-7.74,"k":"L: 180–200\u00a0"},{"y":-1.7,"x":-7.78,"k":"L: 180–200\u00a0"},{"y":-1.9,"x":-7.89,"k":"L: 180–200\u00a0"},{"y":-2.1,"x":-8.58,"k":"L: 180–200\u00a0"},{"y":-2.3,"x":-7.87,"k":"L: 180–200\u00a0"},{"y":-2.5,"x":-7.67,"k":"L: 180–200\u00a0"},{"y":-2.7,"x":-7.11,"k":"L: 180–200\u00a0"},{"y":-2.9,"x":-7.5,"k":"L: 180–200\u00a0"},{"y":-3.1,"x":-8.61,"k":"L: 180–200\u00a0"},{"y":-3.3,"x":-8.7,"k":"L: 180–200\u00a0"},{"y":-3.5,"x":-7.43,"k":"L: 180–200\u00a0"},{"y":-3.7,"x":-7.64,"k":"L: 180–200\u00a0"},{"y":-3.9,"x":-7.54,"k":"L: 180–200\u00a0"}
]},
"encoding":{
"x":{"field":"x","type":"quantitative","scale":{"domain":[-11,-1],"nice":false,"zero":false},
 "axis":{"values":[-11,-10,-9,-8,-7,-6,-5,-4,-3,-2,-1],"format":"~g","title":"UCERF3 Solution Rate","titleFontSize":21,"titleFontWeight":"normal","titleColor":"black","titleFont":"Liberation Sans","titlePadding":4,
 "labelFont":"Liberation Sans","labelFontSize":15,"labelColor":"black","labelPadding":8,"labelFlush":false,"labelOverlap":false,
 "grid":true,"gridColor":"#666","gridDash":[1,5],"gridWidth":1,"domain":false,"ticks":false}},
"y":{"field":"y","type":"quantitative","scale":{"domain":[-5,0],"nice":false,"zero":false},
 "axis":{"values":[0,-0.5,-1,-1.5,-2,-2.5,-3,-3.5,-4,-4.5,-5],"format":"~g","title":"Geometry Predicted Probability","titleFontSize":21,"titleFontWeight":"normal","titleColor":"black","titleFont":"Liberation Sans","titlePadding":8,
 "labelFont":"Liberation Sans","labelFontSize":15,"labelColor":"black","labelPadding":6,"labelFlush":false,"labelOverlap":false,
 "grid":true,"gridColor":"#666","gridDash":[1,5],"gridWidth":1,"domain":false,"ticks":false}}
},
"layer":[
{"data":{"name":"dots"},"mark":{"type":"point","filled":true,"size":18,"opacity":1,"shape":"circle","strokeWidth":0},
 "encoding":{"fill":{"field":"k","type":"nominal","title":null,
  "scale":{"domain":["L: 20–40","L: 20–40\u00a0","L: 40–60","L: 40–60\u00a0","L: 60–80","L: 60–80\u00a0","L: 80–100","L: 80–100\u00a0","L: 100–120","L: 100–120\u00a0","L: 120–140","L: 120–140\u00a0","L: 140–160","L: 140–160\u00a0","L: 160–180","L: 160–180\u00a0","L: 180–200","L: 180–200\u00a0"],
   "range":["#ff0000","#ff0000","#ff8000","#ff8000","#ffc800","#ffc800","#aaff00","#aaff00","#00ee00","#00ee00","#00ffaa","#00ffaa","#00ffff","#00ffff","#0080ff","#0080ff","#0000ff","#0000ff"]},
  "legend":{"title":null,"orient":"none","legendX":570,"legendY":203}}}},
{"data":{"name":"lines"},"mark":{"type":"line","strokeWidth":3},
 "encoding":{"stroke":{"field":"k","type":"nominal","title":null,
  "scale":{"domain":["L: 20–40","L: 20–40\u00a0","L: 40–60","L: 40–60\u00a0","L: 60–80","L: 60–80\u00a0","L: 80–100","L: 80–100\u00a0","L: 100–120","L: 100–120\u00a0","L: 120–140","L: 120–140\u00a0","L: 140–160","L: 140–160\u00a0","L: 160–180","L: 160–180\u00a0","L: 180–200","L: 180–200\u00a0"],
   "range":["#ff0000","#ff0000","#ff8000","#ff8000","#ffc800","#ffc800","#aaff00","#aaff00","#00ee00","#00ee00","#00ffaa","#00ffaa","#00ffff","#00ffff","#0080ff","#0080ff","#0000ff","#0000ff"]},
  "legend":{"title":null,"orient":"none","legendX":570,"legendY":203}},
 "order":{"field":"y","type":"quantitative","sort":"descending"}}},
{"data":{"name":"lines"},"mark":{"type":"point","filled":false,"size":100,"strokeWidth":3.5,"opacity":1},
 "encoding":{"stroke":{"field":"k","type":"nominal","title":null,
  "scale":{"domain":["L: 20–40","L: 20–40\u00a0","L: 40–60","L: 40–60\u00a0","L: 60–80","L: 60–80\u00a0","L: 80–100","L: 80–100\u00a0","L: 100–120","L: 100–120\u00a0","L: 120–140","L: 120–140\u00a0","L: 140–160","L: 140–160\u00a0","L: 160–180","L: 160–180\u00a0","L: 180–200","L: 180–200\u00a0"],
   "range":["#ff0000","#ff0000","#ff8000","#ff8000","#ffc800","#ffc800","#aaff00","#aaff00","#00ee00","#00ee00","#00ffaa","#00ffaa","#00ffff","#00ffff","#0080ff","#0080ff","#0000ff","#0000ff"]},
  "legend":{"title":null,"orient":"none","legendX":570,"legendY":203}},
 "shape":{"field":"k","type":"nominal","title":null,
  "scale":{"domain":["L: 20–40","L: 20–40\u00a0","L: 40–60","L: 40–60\u00a0","L: 60–80","L: 60–80\u00a0","L: 80–100","L: 80–100\u00a0","L: 100–120","L: 100–120\u00a0","L: 120–140","L: 120–140\u00a0","L: 140–160","L: 140–160\u00a0","L: 160–180","L: 160–180\u00a0","L: 180–200","L: 180–200\u00a0"],
   "range":["M0,-2.6L0,-2.6M0,2.6L0,2.6M-0.2,0A0.2,0.2 0 1,1 0.2,0A0.2,0.2 0 1,1 -0.2,0Z","M-2.6,0H2.6M0,-2.6V2.6","M0,-2.6L0,-2.6M0,2.6L0,2.6M-0.2,0A0.2,0.2 0 1,1 0.2,0A0.2,0.2 0 1,1 -0.2,0Z","M-2.6,0H2.6M0,-2.6V2.6","M0,-2.6L0,-2.6M0,2.6L0,2.6M-0.2,0A0.2,0.2 0 1,1 0.2,0A0.2,0.2 0 1,1 -0.2,0Z","M-2.6,0H2.6M0,-2.6V2.6","M0,-2.6L0,-2.6M0,2.6L0,2.6M-0.2,0A0.2,0.2 0 1,1 0.2,0A0.2,0.2 0 1,1 -0.2,0Z","M-2.6,0H2.6M0,-2.6V2.6","M0,-2.6L0,-2.6M0,2.6L0,2.6M-0.2,0A0.2,0.2 0 1,1 0.2,0A0.2,0.2 0 1,1 -0.2,0Z","M-2.6,0H2.6M0,-2.6V2.6","M0,-2.6L0,-2.6M0,2.6L0,2.6M-0.2,0A0.2,0.2 0 1,1 0.2,0A0.2,0.2 0 1,1 -0.2,0Z","M-2.6,0H2.6M0,-2.6V2.6","M0,-2.6L0,-2.6M0,2.6L0,2.6M-0.2,0A0.2,0.2 0 1,1 0.2,0A0.2,0.2 0 1,1 -0.2,0Z","M-2.6,0H2.6M0,-2.6V2.6","M0,-2.6L0,-2.6M0,2.6L0,2.6M-0.2,0A0.2,0.2 0 1,1 0.2,0A0.2,0.2 0 1,1 -0.2,0Z","M-2.6,0H2.6M0,-2.6V2.6","M0,-2.6L0,-2.6M0,2.6L0,2.6M-0.2,0A0.2,0.2 0 1,1 0.2,0A0.2,0.2 0 1,1 -0.2,0Z","M-2.6,0H2.6M0,-2.6V2.6"]},
  "legend":{"title":null,"orient":"none","legendX":570,"legendY":203}}}}
],
"config":{"view":{"stroke":"black","strokeWidth":1.2},"font":"Liberation Sans",
 "legend":{"padding":4,"strokeColor":"black","fillColor":"white","labelFont":"Liberation Sans","labelFontSize":16,"labelColor":"black","labelLimit":300,
  "symbolSize":100,"symbolOffset":20,"labelOffset":21,"rowPadding":-20,"symbolStrokeWidth":3.5}}
}
